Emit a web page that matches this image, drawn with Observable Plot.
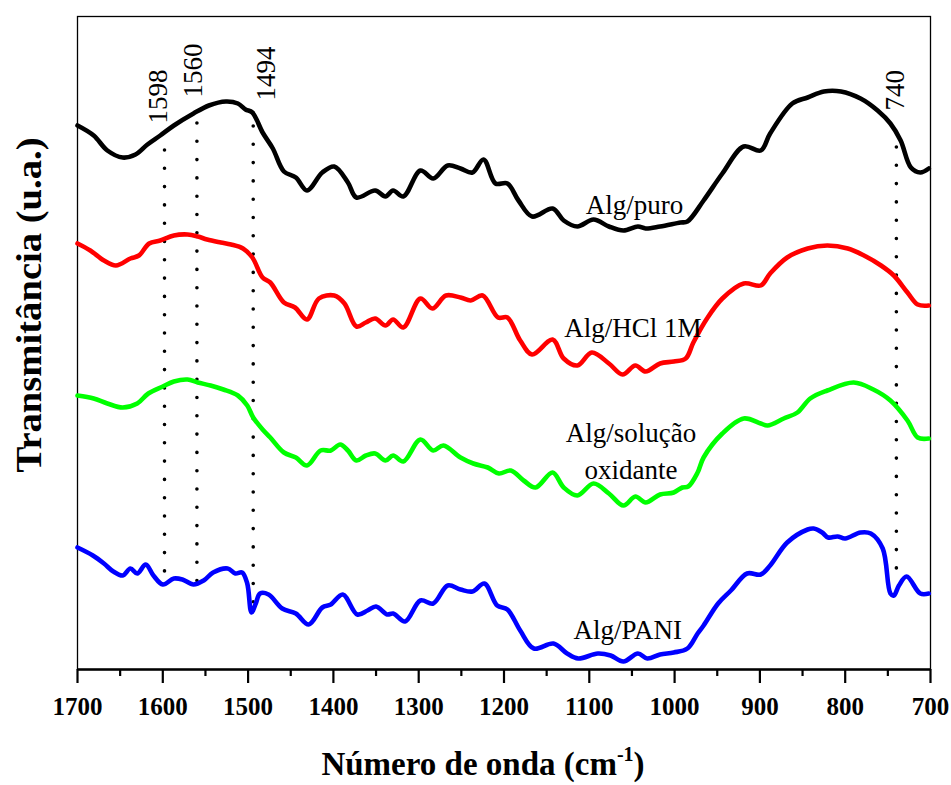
<!DOCTYPE html>
<html>
<head>
<meta charset="utf-8">
<script src="https://cdn.jsdelivr.net/npm/d3@7"></script>
<script src="https://cdn.jsdelivr.net/npm/@observablehq/plot@0.6"></script>
<style>
  html, body { margin: 0; padding: 0; background: #fff; }
  #chart svg { display: block; }
</style>
</head>
<body>
<div id="chart"></div>
<script>
// ---- Data (wavenumber cm-1, transmittance in arbitrary units, curves offset) ----
const algPuro = [
  [1700,544],[1681,534],[1665,519],[1647,512],[1632,515],[1618,525],[1603,534],[1587,544],
  [1564,556],[1546,564],[1526,568],[1512,566],[1503,560],[1495,557],[1483,537],[1471,521],
  [1458,498],[1444,492],[1431,479],[1413,497],[1399,503],[1383,487],[1373,472],[1351,479],
  [1339,473],[1330,479],[1318,473],[1298,499],[1283,491],[1266,504],[1251,501],[1237,497],
  [1224,510],[1210,486],[1196,486],[1183,469],[1167,453],[1143,461],[1130,449],[1114,443],
  [1095,450],[1077,443],[1060,439],[1043,443],[1034,441],[1017,443],[993,447],[985,448],
  [966,469],[944,496],[919,523],[899,519],[888,536],[862,566],[844,572],[825,578],
  [805,578],[782,571],[762,559],[747,546],[735,529],[723,502],[712,497],[702,501]
];
const algHCl = [
  [1700,426],[1685,419],[1669,409],[1655,404],[1638,411],[1628,414],[1616,426],[1603,429],
  [1587,434],[1571,435],[1559,433],[1548,430],[1532,427],[1520,425],[1506,421],[1495,412],
  [1483,392],[1474,387],[1458,367],[1445,362],[1431,350],[1417,371],[1399,374],[1387,366],
  [1373,343],[1362,347],[1351,351],[1339,344],[1330,350],[1318,342],[1298,371],[1284,361],
  [1268,374],[1251,372],[1239,369],[1225,374],[1207,352],[1196,352],[1181,329],[1167,315],
  [1143,330],[1130,311],[1114,304],[1097,317],[1077,306],[1061,295],[1046,304],[1034,298],
  [1017,306],[1001,308],[987,311],[978,327],[962,351],[944,371],[919,386],[899,384],
  [888,396],[868,412],[844,421],[821,424],[797,421],[778,414],[758,404],[743,394],
  [727,377],[715,365],[702,364]
];
const algOxid = [
  [1700,274],[1681,271],[1665,266],[1647,262],[1630,266],[1617,276],[1600,283],[1587,288],
  [1571,290],[1559,287],[1544,284],[1529,280],[1512,274],[1501,264],[1494,252],[1483,240],
  [1474,232],[1458,217],[1444,212],[1431,204],[1415,219],[1403,219],[1392,225],[1383,219],
  [1373,209],[1362,214],[1351,216],[1339,209],[1330,214],[1318,208],[1298,230],[1283,219],
  [1271,224],[1251,212],[1236,206],[1219,202],[1206,196],[1192,199],[1177,189],[1163,182],
  [1143,197],[1130,182],[1114,174],[1095,186],[1077,176],[1060,164],[1046,173],[1034,167],
  [1017,175],[1001,177],[991,182],[984,183],[973,197],[966,212],[944,236],[919,251],
  [899,246],[891,244],[872,251],[856,257],[841,271],[821,279],[790,287],[767,280],
  [747,269],[727,249],[715,232],[702,231]
];
const algPani = [
  [1700,122],[1682,114],[1669,106],[1658,98],[1647,94],[1638,101],[1630,96],[1620,105],
  [1611,94],[1600,85],[1587,91],[1577,90],[1564,85],[1552,89],[1541,97],[1524,101],
  [1515,96],[1507,97],[1501,86],[1496,57],[1491,66],[1486,76],[1476,75],[1460,61],
  [1444,56],[1429,45],[1413,62],[1403,65],[1389,75],[1372,55],[1360,59],[1350,63],
  [1337,55],[1330,56],[1316,48],[1298,69],[1283,66],[1266,84],[1251,80],[1237,78],
  [1223,86],[1208,64],[1196,60],[1181,39],[1165,21],[1142,26],[1126,16],[1113,11],
  [1090,16],[1075,14],[1060,8],[1043,16],[1032,11],[1017,15],[1001,17],[985,21],
  [973,36],[966,44],[949,66],[934,79],[915,96],[899,95],[888,104],[868,127],
  [844,140],[837,141],[827,137],[820,132],[809,133],[800,131],[782,137],[770,136],
  [756,121],[747,76],[743,74],[737,84],[728,93],[712,76],[702,76]
];

const seriesNames = ["Alg/puro", "Alg/HCl 1M", "Alg/solução\noxidante", "Alg/PANI"];
const seriesColors = ["#000000", "#ff0000", "#00ff00", "#0000ff"];

const peakValues = [1598, 1560, 1494, 740];
const peakLabels = ["1598", "1560", "1494", "740"];
const peakLineTop = [519, 546, 543, 522];
const peakLineBottom = [97, 87, 66, 101];

const majorTicks = [1700, 1600, 1500, 1400, 1300, 1200, 1100, 1000, 900, 800, 700];
const minorTicks = [1650, 1550, 1450, 1350, 1250, 1150, 1050, 950, 850, 750];

const xTitle = "Número de onda (cm";
const xTitleSup = "-1";
const yTitle = "Transmitância (u.a.)";

// ---- Chart ----
const serif = "'Liberation Serif', 'Times New Roman', serif";
const series = [algPuro, algHCl, algOxid, algPani];

const peaks = peakValues.map((v, i) => ({v, label: peakLabels[i], top: peakLineTop[i], bottom: peakLineBottom[i]}));
const peakDx = [-6, -4, 13, -1];
const peakStartY = [546, 572, 569, 559];

const labelPos = [
  {x: 1047, y: 467},
  {x: 1049, y: 344},
  {x: 1051, y: 221},
  {x: 1055, y: 42}
];

const marks = [
  Plot.frame({stroke: "black", strokeWidth: 1.3}),
  Plot.ruleY([0], {stroke: "black", strokeWidth: 2.6}),
  Plot.axisX({ticks: minorTicks, tickSize: 7, tickFormat: () => "", label: null, strokeWidth: 2.2, stroke: "black"}),
  Plot.axisX({ticks: majorTicks, tickSize: 14, tickPadding: 14, label: null, strokeWidth: 2.2, stroke: "black",
              fontSize: 25, fontWeight: "bold", fontFamily: serif, fill: "black", tickFormat: d => String(d)}),
  Plot.ruleX(peaks, {x: "v", y1: "top", y2: "bottom", stroke: "black", strokeWidth: 3.6,
                     strokeDasharray: "0 18.3", strokeLinecap: "round"}),
  ...series.map((s, i) => Plot.line(s, {x: d => d[0], y: d => d[1], stroke: seriesColors[i],
      strokeWidth: 4.6, curve: "catmull-rom", strokeLinejoin: "round", strokeLinecap: "round"})),
  ...peaks.map((p, i) => Plot.text([p], {x: "v", y: () => peakStartY[i], text: "label", rotate: -90,
      textAnchor: "start", lineAnchor: "middle", dx: peakDx[i], fontSize: 27, fontFamily: serif, fill: "black"})),
  ...seriesNames.map((name, i) => Plot.text([name], {x: () => labelPos[i].x, y: () => labelPos[i].y, text: d => d,
      textAnchor: "middle", lineAnchor: "middle", lineHeight: 1.37, fontSize: 27, fontFamily: serif, fill: "black"}))
];

const chart = Plot.plot({
  width: 951,
  height: 785,
  marginLeft: 77,
  marginRight: 21,
  marginTop: 16,
  marginBottom: 116,
  x: {domain: [1700, 700], axis: null, label: null},
  y: {domain: [0, 653], axis: null, label: null},
  style: {background: "white", overflow: "visible"},
  marks
});

const svg = d3.select(chart);
svg.append("text")
  .attr("transform", "translate(28,305) rotate(-90)")
  .attr("text-anchor", "middle")
  .attr("dy", "0.35em")
  .attr("font-family", serif)
  .attr("font-weight", "bold")
  .attr("font-size", 36)
  .attr("textLength", 335)
  .attr("lengthAdjust", "spacingAndGlyphs")
  .attr("fill", "black")
  .text(yTitle);

const xt = svg.append("text")
  .attr("x", 483)
  .attr("y", 775)
  .attr("text-anchor", "middle")
  .attr("font-family", serif)
  .attr("font-weight", "bold")
  .attr("font-size", 33)
  .attr("fill", "black");
xt.append("tspan").text(xTitle);
xt.append("tspan").attr("font-size", 20).attr("dy", -14).text(xTitleSup);
xt.append("tspan").attr("dy", 14).text(")");

document.getElementById("chart").appendChild(chart);
</script>
</body>
</html>
